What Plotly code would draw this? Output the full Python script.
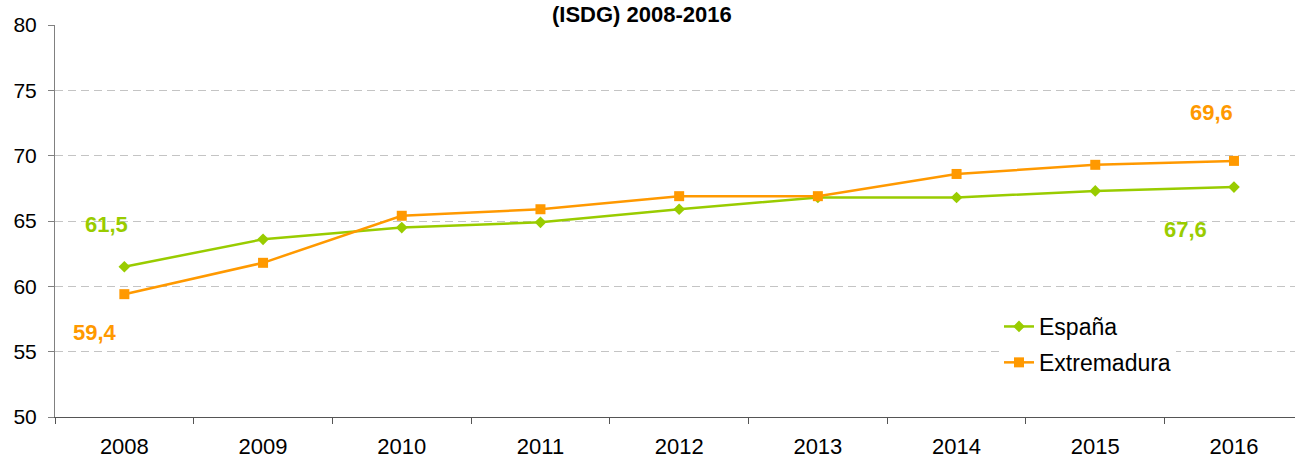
import plotly.graph_objects as go

years = ["2008", "2009", "2010", "2011", "2012", "2013", "2014", "2015", "2016"]
espana = [61.5, 63.6, 64.5, 64.9, 65.9, 66.8, 66.8, 67.3, 67.6]
extremadura = [59.4, 61.8, 65.4, 65.9, 66.9, 66.9, 68.6, 69.3, 69.6]
y_ticks = [50, 55, 60, 65, 70, 75, 80]
title_text = "(ISDG) 2008-2016"

GREEN = "#99CC00"
ORANGE = "#FF9900"
FONT = "Liberation Sans, Arial, sans-serif"

W, H = 1295, 461
L, R, T, B = 55, 0, 25, 44
plot_w = W - L - R
plot_h = H - T - B


def fmt(v):
    return f"{v:.1f}".replace(".", ",")


fig = go.Figure()
fig.add_trace(go.Scatter(
    x=years, y=espana, name="España", mode="lines+markers",
    line=dict(color=GREEN, width=2.5),
    marker=dict(symbol="diamond", size=9, color=GREEN),
    legendgroup="a",
))
fig.add_trace(go.Scatter(
    x=years, y=extremadura, name="Extremadura", mode="lines+markers",
    line=dict(color=ORANGE, width=2.5),
    marker=dict(symbol="square", size=10, color=ORANGE),
    legendgroup="b",
))

annos = [
    dict(x=-0.13, y=64.77, text=fmt(espana[0]), color=GREEN),
    dict(x=-0.21, y=56.5, text=fmt(extremadura[0]), color=ORANGE),
    dict(x=7.84, y=73.3, text=fmt(extremadura[-1]), color=ORANGE),
    dict(x=7.65, y=64.38, text=fmt(espana[-1]), color=GREEN),
]
for a in annos:
    fig.add_annotation(
        x=a["x"], y=a["y"], xref="x", yref="y", text=f"<b>{a['text']}</b>",
        showarrow=False, font=dict(family=FONT, size=22, color=a["color"]),
        xanchor="center", yanchor="middle",
    )

fig.add_annotation(
    x=(642 - L) / plot_w, y=(H - B - 14.5) / plot_h, xref="paper", yref="paper",
    text=f"<b>{title_text}</b>", showarrow=False, borderpad=0,
    font=dict(family=FONT, size=22, color="black"),
    xanchor="center", yanchor="middle",
)

fig.update_layout(
    width=W, height=H,
    margin=dict(l=L, r=R, t=T, b=B, pad=0, autoexpand=False),
    paper_bgcolor="white", plot_bgcolor="white",
    font=dict(family=FONT, size=21, color="black"),
    showlegend=True,
    legend=dict(
        x=(999 - L) / plot_w, y=(H - B - 305) / plot_h,
        xanchor="left", yanchor="top",
        font=dict(family=FONT, size=23, color="black"),
        bgcolor="white", traceorder="grouped", tracegroupgap=3,
    ),
    xaxis=dict(
        type="category", range=[-0.5, 8.44],
        showgrid=False, showline=True, linecolor="#555555", linewidth=1,
        ticks="outside", tickson="boundaries", ticklen=6, tickcolor="#555555",
        tickfont=dict(family=FONT, size=22, color="black"),
        ticklabelstandoff=10, automargin=False,
        fixedrange=True,
    ),
    yaxis=dict(
        range=[50, 80], tickvals=y_ticks,
        showgrid=True, gridcolor="#C4C4C4", griddash="8px,5px", gridwidth=1,
        showline=True, linecolor="#808080", linewidth=1,
        ticks="outside", ticklen=6, tickcolor="#808080",
        tickfont=dict(family=FONT, size=21, color="black"),
        ticklabelstandoff=7, automargin=False,
        zeroline=False, fixedrange=True,
    ),
)

fig.write_html(
    "out.html",
    config={"displayModeBar": False},
    post_script="document.body.style.margin='0';document.body.style.padding='0';",
)
